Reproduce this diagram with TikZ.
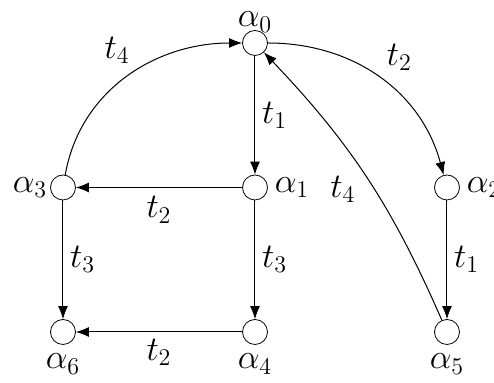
\documentclass[tikz,border=0pt]{standalone}
\usepackage{amsmath,amssymb}
\usepackage{xcolor}
\usepackage{tikz}
\usetikzlibrary{arrows.meta, positioning}

\begin{document}
\begin{tikzpicture}[node distance=72.25pt, auto, font=\LARGE]
    \tikzstyle{place} = [circle, draw, fill=white, minimum size=12.5pt, inner sep=0pt]
    \tikzstyle{line} = [draw, -{Latex[length=6.5pt,width=5pt]}, line width=0.5pt]

    \useasboundingbox (-127.5pt,21.5pt) rectangle (119.5pt,-170pt);

    \node [place, label={[label distance=-4.5pt]above:$\alpha_0$}] (a0) at (0,0) {};
    \node [place, below of=a0, label=right:$\alpha_1$] (a1) {};
    \node [place, left of=a1, node distance=96pt, label={[label distance=-2pt]left:$\alpha_3$}] (a3) {};
    \node [place, right of=a1, node distance=96pt, label=right:$\alpha_2$] (a2) {};
    \node [place, below of=a1, label={[label distance=1pt]below:$\alpha_4$}] (a4) {};
    \node [place, left of=a4, node distance=96pt, label={[label distance=1pt]below:$\alpha_6$}] (a6) {};
    \node [place, right of=a4, node distance=96pt, label={[label distance=1pt]below:$\alpha_5$}] (a5) {};

    \path [line] (a0) -- node[right]{$t_1$} (a1);
    \path [line] (a1) -- node[below=1pt]{$t_2$} (a3);
    \path [line] (a3) -- node[right]{$t_3$} (a6);
    \path [line] (a1) -- node[right]{$t_3$} (a4);
    \path [line] (a4) -- node[below=0pt]{$t_2$} (a6);
    \path [line] (a2) -- node[right]{$t_1$} (a5);
    \path [line] (a3) to[out=80, in=180] node[above left, pos=0.55]{$t_4$} (a0);
    \path [line] (a0) to[out=0, in=105] node[above right, pos=0.5]{$t_2$} (a2);
    \path [line] (a5) to[bend right=10] node[pos=0.45, left=6pt]{$t_4$} (a0);
\end{tikzpicture}
\end{document}
